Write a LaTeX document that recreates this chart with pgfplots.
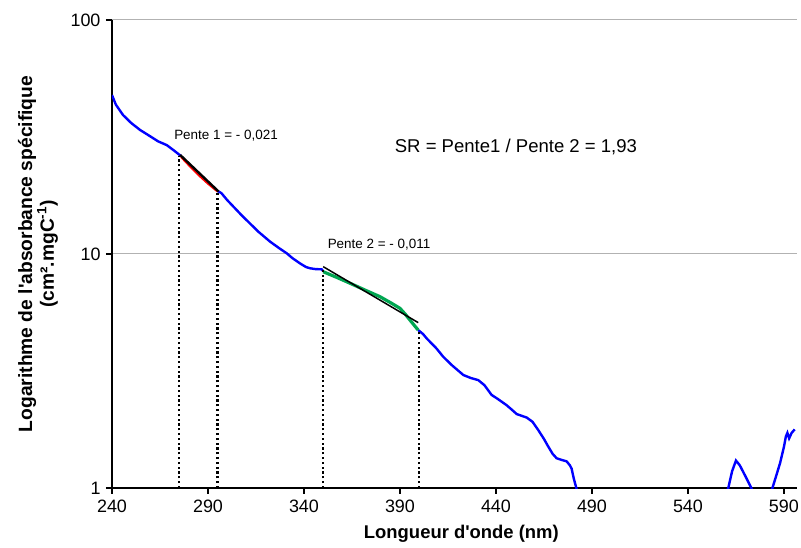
\documentclass[border=0pt]{standalone}
\usepackage{fontspec}
\setmainfont{Liberation Sans}
\usepackage{pgfplots}
\pgfplotsset{compat=1.18}
\definecolor{cblue}{RGB}{0,0,255}
\definecolor{cgreen}{RGB}{0,166,81}
\begin{document}
\begin{tikzpicture}
\begin{axis}[
  scale only axis, width=685bp, height=468bp,
  xmin=240, xmax=596.8, ymin=1, ymax=100, ymode=log,
  axis x line*=bottom, axis y line*=left,
  axis line style={-, line width=1.3bp, black},
  xtick={240,290,...,590}, ytick={1,10,100}, yticklabels={1,10,100},
  yminorticks=false, xminorticks=false,
  tick align=outside, major tick length=6bp,
  tick style={black, line width=1.1bp},
  ymajorgrids, grid style={black!30, line width=1bp},
  /pgf/number format/assume math mode=true,
  ticklabel style={font=\fontsize{18}{20}\selectfont},
  xticklabel style={/pgf/number format/1000 sep={}, yshift=-2bp},
  yticklabel style={xshift=-2bp},
  xlabel={Longueur d\textquotesingle onde (nm)},
  xlabel style={font=\bfseries\fontsize{18.5}{22}\selectfont, at={(axis description cs:0.51,0)}, anchor=north, yshift=-34bp},
  ylabel={Logarithme de l\textquotesingle absorbance spécifique\\(cm².mgC\textsuperscript{-1})},
  ylabel style={font=\bfseries\fontsize{19.3}{22}\selectfont, align=center, at={(axis description cs:0,0.5)}, anchor=center, xshift=0bp, yshift=74bp},
]
% blue curve parts
\addplot[cblue, line width=2.4bp] coordinates {
(240,47.8) (242,43.5) (245.7,39.3) (250,36.3) (254.6,33.9) (260,31.8) (264,30.3) (268.5,29.2) (272,27.8) (276,26.2)
};
\addplot[cblue, line width=2.4bp] coordinates {
(295,18.6) (297,18.2) (300,17.0) (304,15.7) (308,14.5) (311.9,13.5) (316,12.5) (322.3,11.3) (327,10.6) (331,10.07) (334,9.6) (337.9,9.12) (341,8.8) (343.1,8.69) (346,8.62) (349.2,8.6) (350,8.45)
};
\addplot[cblue, line width=2.4bp] coordinates {
(399.5,4.73) (402,4.55) (404,4.35) (409,3.95) (412.5,3.64) (417,3.35) (423,3.04) (427,2.95) (430.8,2.89) (434,2.75) (437.7,2.50) (441,2.40) (445.5,2.26) (448,2.17) (450.8,2.07) (456,2.00) (459,1.92) (462,1.77) (465,1.62) (467.3,1.50) (469.5,1.40) (471.6,1.34) (474,1.32) (476.8,1.30) (478.5,1.25) (479.4,1.21) (480.5,1.1) (482,0.99) (483,0.9)
};
\addplot[cblue, line width=2.4bp] coordinates {
(559,0.9) (561,1.0) (563,1.18) (565,1.31) (567,1.25) (570,1.12) (573,1.0) (574,0.95)
};
\addplot[cblue, line width=2.4bp] coordinates {
(582,0.9) (584,1.0) (586,1.13) (588,1.28) (590,1.5) (591,1.66) (591.8,1.72) (592.7,1.63) (594,1.72) (595.6,1.78)
};
% red and green segments
\addplot[red, line width=2.2bp] coordinates {
(276,26.0) (280,24.0) (285,21.8) (290,20.0) (295,18.5)
};
\addplot[cgreen, line width=3.2bp] coordinates {
(350,8.40) (357,7.95) (364,7.50) (372,7.0) (379.6,6.57) (385,6.2) (390,5.86) (393,5.5) (395.2,5.22) (397.5,4.95) (399.5,4.73)
};
% tangent lines
\addplot[black, line width=2.4bp] coordinates {(275.5,26.5) (295.5,18.5)};
\addplot[black, line width=1.5bp] coordinates {(350,8.83) (399.5,5.09)};
% dotted verticals
\addplot[black, line width=2.2bp, dash pattern=on 2.2bp off 2.6bp] coordinates {(275,1) (275,26.3)};
\addplot[black, line width=2.2bp, dash pattern=on 2.2bp off 2.6bp] coordinates {(295,1) (295,18.4)};
\addplot[black, line width=2.2bp, dash pattern=on 2.2bp off 2.6bp] coordinates {(350,1) (350,8.7)};
\addplot[black, line width=2.2bp, dash pattern=on 2.2bp off 2.6bp] coordinates {(400,1) (400,4.7)};
% annotations
\node[font=\fontsize{13.5}{15}\selectfont] at (axis cs:299.4,31.9) {Pente 1 = - 0,021};
\node[font=\fontsize{13.5}{15}\selectfont] at (axis cs:379.1,10.93) {Pente 2 = - 0,011};
\node[font=\fontsize{18.6}{22}\selectfont] at (axis cs:450.4,28.6) {SR = Pente1 / Pente 2 = 1,93};
\end{axis}
\pgfresetboundingbox
\path[use as bounding box] ([xshift=-112bp,yshift=-60bp]current axis.south west) rectangle ([xshift=689bp,yshift=488bp]current axis.south west);
\end{tikzpicture}
\end{document}
